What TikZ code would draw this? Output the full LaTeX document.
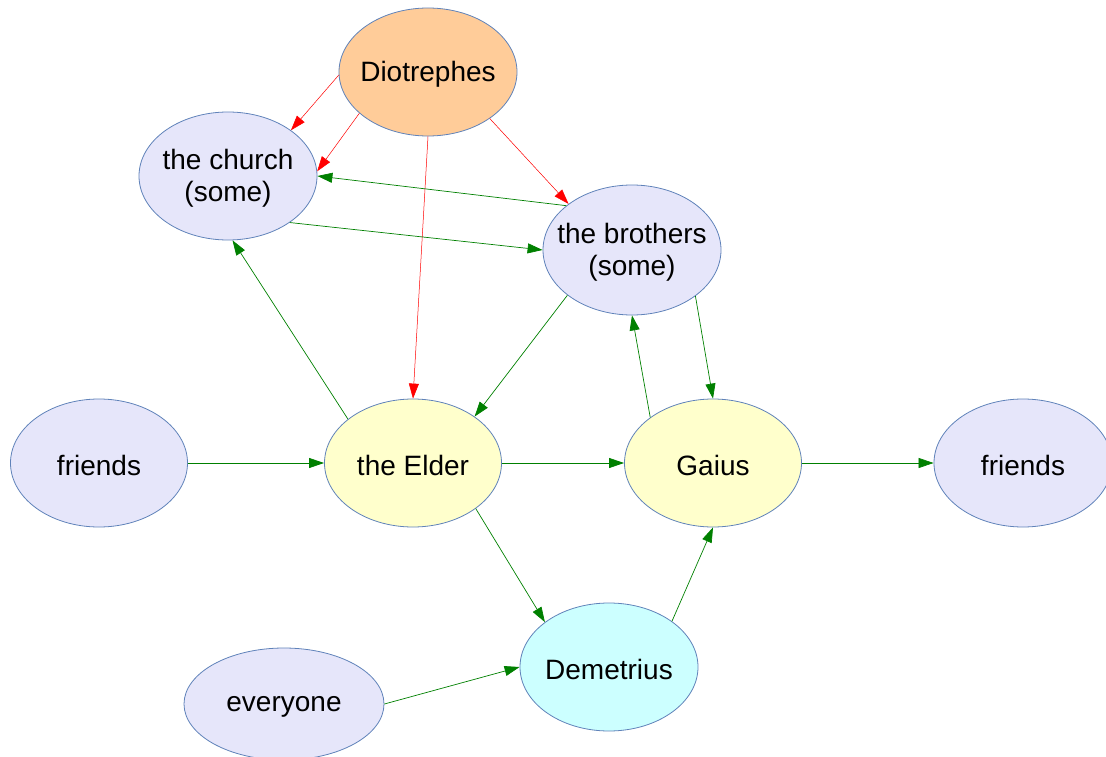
\documentclass[tikz,border=0pt]{standalone}
\usepackage{fontspec}
\setmainfont{Liberation Sans}
\usetikzlibrary{shapes, arrows.meta, positioning}
\tikzset{
    ellnode/.style = {draw=rim, ellipse, inner sep=0pt, minimum width=178pt, minimum height=128pt, line width=0.8pt},
    textnode/.style = {draw=none, fill=none, rectangle, inner sep=0pt, align=center, yshift=-2.5pt,
      font=\fontsize{28}{32}\selectfont},
    connect/.style = {grn, line width=0.7pt, -{Triangle[length=15pt, width=10pt]}},
    hostile/.style = {red, line width=0.5pt, -{Triangle[length=15pt, width=10pt]}}
}
\definecolor{lav}{RGB}{230, 230, 250}
\definecolor{yel}{RGB}{255, 255, 204}
\definecolor{cya}{RGB}{204, 255, 255}
\definecolor{ora}{RGB}{255, 204, 153}
\definecolor{rim}{RGB}{95, 130, 185}
\definecolor{grn}{RGB}{0, 128, 0}

\begin{document}
\begin{tikzpicture}[x=1pt, y=-1pt]
    \useasboundingbox (0,0) rectangle (1106,757);
    \clip (0,0) rectangle (1106,757);

    % ellipses
    \node [ellnode, fill=ora, name=dio] at (428,72) {};
    \node [ellnode, fill=lav, name=church] at (228,176) {};
    \node [ellnode, fill=lav, name=brothers, minimum height=130pt] at (632,250) {};
    \node [ellnode, fill=lav, name=friendsl, minimum width=177pt] at (99,463) {};
    \node [ellnode, fill=yel, name=elder, minimum width=177pt] at (413,463) {};
    \node [ellnode, fill=yel, name=gaius, minimum width=177pt] at (713,463) {};
    \node [ellnode, fill=lav, name=friendsr] at (1023,463) {};
    \node [ellnode, fill=cya, name=demetrius] at (609,667) {};
    \node [ellnode, fill=lav, name=everyone, minimum width=200pt, minimum height=112pt] at (284,704) {};

    % texts
    \node [textnode, name=diotext] at (dio) {Diotrephes};
    \node [textnode, name=churchtext] at (church) {the church\\(some)};
    \node [textnode, name=brotherstext] at (brothers) {the brothers\\(some)};
    \node [textnode, name=friendsltext] at (friendsl) {friends};
    \node [textnode, name=eldertext] at (elder) {the Elder};
    \node [textnode, name=gaiustext] at (gaius) {Gaius};
    \node [textnode, name=friendsrtext] at (friendsr) {friends};
    \node [textnode, name=demetriustext] at (demetrius) {Demetrius};
    \node [textnode, name=everyonetext] at (everyone) {everyone};

    % Diotrephes
    \draw (dio.182) edge [hostile] (church.36);
    \draw (dio.211) edge [hostile] (church.3);
    \draw (dio.323) edge [hostile] (brothers.144);
    \draw (dio.south) edge [hostile] (elder.north);

    % the rest
    \draw (brothers.146) edge [connect] (church.east);
    \draw (church.323) edge [connect] (brothers.west);
    \draw (elder.146) edge [connect] (church.274);
    \draw (brothers.215) edge [connect] (elder.37);
    \draw (gaius.144) edge [connect] (brothers.south);
    \draw (brothers.324) edge [connect] (gaius.north);
    \draw (friendsl.east) edge [connect] (elder.west);
    \draw (elder.east) edge [connect] (gaius.west);
    \draw (gaius.east) edge [connect] (friendsr.west);
    \draw (elder.324) edge [connect] (demetrius.145);
    \draw (demetrius.36) edge [connect] (gaius.south);
    \draw (everyone.east) edge [connect] (demetrius.west);
\end{tikzpicture}
\end{document}
